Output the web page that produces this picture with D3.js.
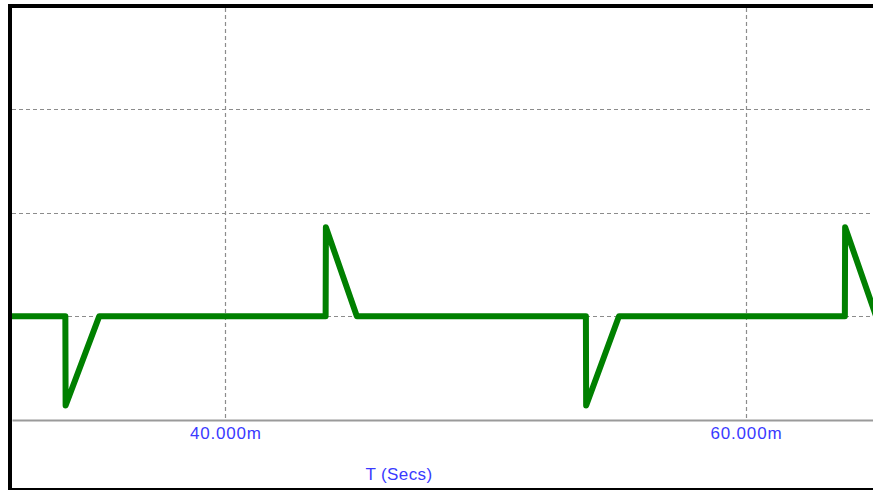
<!DOCTYPE html>
<html>
<head>
<meta charset="utf-8">
<script src="https://cdn.jsdelivr.net/npm/d3@7"></script>
<style>
  body { margin: 0; background: #fff; }
  svg { display: block; }
</style>
</head>
<body>
<div class="chart"></div>
<script>
// Data (time in ms, value in grid units)
var timeMs = [31.8, 33.85, 33.86, 35.15, 43.85, 43.86, 45.05, 53.85, 53.86, 55.12, 63.8, 63.81, 65.0, 65.2];
var signal = [0, 0, -0.86, 0, 0, 0.86, 0, 0, -0.86, 0, 0, 0.86, 0, 0];

var xTicks = [40, 60];
var xTickLabels = ["40.000m", "60.000m"];
var yGrid = [0, 1, 2];

var xDomain = [31.8, 65.15];
var yDomain = [-1, 2.974];

// svg size
var svgWidth = 873;
var svgHeight = 490;

// plot area inside the black frame
var plot = { left: 12, top: 8, right: 880, bottom: 420 };

var svg = d3.select(".chart")
  .append("svg")
  .attr("width", svgWidth)
  .attr("height", svgHeight);

var xScale = d3.scaleLinear()
  .domain(xDomain)
  .range([plot.left, plot.right]);

var yScale = d3.scaleLinear()
  .domain(yDomain)
  .range([plot.bottom, plot.top]);

svg.append("defs").append("clipPath")
  .attr("id", "clip")
  .append("rect")
  .attr("x", plot.left)
  .attr("y", plot.top)
  .attr("width", plot.right - plot.left)
  .attr("height", plot.bottom - plot.top);

// gridlines
svg.append("g")
  .selectAll("line")
  .data(yGrid)
  .enter()
  .append("line")
  .attr("x1", plot.left)
  .attr("x2", plot.right)
  .attr("y1", d => Math.round(yScale(d)) + 0.5)
  .attr("y2", d => Math.round(yScale(d)) + 0.5)
  .attr("stroke", "#8c8c8c")
  .attr("stroke-width", 1.2)
  .attr("stroke-dasharray", "4,3");

svg.append("g")
  .selectAll("line")
  .data(xTicks)
  .enter()
  .append("line")
  .attr("x1", d => Math.round(xScale(d)) + 0.5)
  .attr("x2", d => Math.round(xScale(d)) + 0.5)
  .attr("y1", plot.top)
  .attr("y2", plot.bottom)
  .attr("stroke", "#8c8c8c")
  .attr("stroke-width", 1.2)
  .attr("stroke-dasharray", "4,3");

// x axis
var bottomAxis = d3.axisBottom(xScale)
  .tickValues(xTicks)
  .tickSize(0)
  .tickPadding(7)
  .tickFormat((d, i) => xTickLabels[i]);

var xAxis = svg.append("g")
  .attr("transform", `translate(0, ${plot.bottom})`)
  .call(bottomAxis);

xAxis.select(".domain")
  .attr("stroke", "#9a9a9a")
  .attr("stroke-width", 2);

xAxis.selectAll("text")
  .attr("fill", "#3a3aff")
  .attr("font-family", "Arial, 'Liberation Sans', sans-serif")
  .attr("font-size", "17px")
  .attr("letter-spacing", "0.8px");

// the trace
var line = d3.line()
  .x((d, i) => xScale(timeMs[i]))
  .y(d => yScale(d));

svg.append("path")
  .datum(signal)
  .attr("clip-path", "url(#clip)")
  .attr("d", line)
  .attr("fill", "none")
  .attr("stroke", "#008000")
  .attr("stroke-width", 6)
  .attr("stroke-linejoin", "round");

// axis title
svg.append("text")
  .attr("x", 399)
  .attr("y", 480)
  .attr("text-anchor", "middle")
  .attr("fill", "#3a3aff")
  .attr("font-family", "Arial, 'Liberation Sans', sans-serif")
  .attr("font-size", "17px")
  .attr("letter-spacing", "0.4px")
  .text("T (Secs)");

// black frame
svg.append("rect")
  .attr("x", 10)
  .attr("y", 6)
  .attr("width", 870)
  .attr("height", 484)
  .attr("fill", "none")
  .attr("stroke", "#000")
  .attr("stroke-width", 4);
</script>
</body>
</html>
